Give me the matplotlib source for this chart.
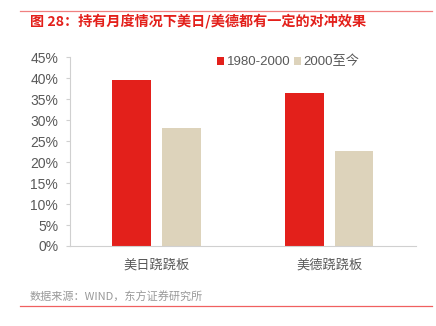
import matplotlib
matplotlib.use('Agg')
import matplotlib.pyplot as plt
import numpy as np
from matplotlib.lines import Line2D

plt.rcParams['font.family'] = ['Liberation Sans', 'Noto Sans CJK SC', 'DejaVu Sans']

# 数据
categories = ['美日跷跷板', '美德跷跷板']
series_names = ['1980-2000', '2000至今']
values_1980 = [39.5, 36.5]
values_2000 = [28.0, 22.7]
yticks = [0, 5, 10, 15, 20, 25, 30, 35, 40, 45]

red = '#E3201B'
beige = '#DDD3BB'
gray = '#595959'

fig = plt.figure(figsize=(4.36, 3.26), dpi=100)
ax = fig.add_axes([0.1606, 0.2454, 0.7934, 0.5796])

x = np.arange(len(categories))
w = 0.225
ax.bar(x - 0.142, values_1980, width=w, color=red, label=series_names[0])
ax.bar(x + 0.142, values_2000, width=w, color=beige, label=series_names[1])

ax.set_xlim(-0.5, 1.5)
ax.set_ylim(0, 45)
ax.set_yticks(yticks)
ax.set_yticklabels([f'{t}%' for t in yticks], color=gray, fontsize=10)
ax.set_xticks(x)
ax.set_xticklabels(categories, color=gray, fontsize=9.5,
                   family=['Noto Sans CJK SC', 'DejaVu Sans'])
ax.tick_params(axis='x', length=0, pad=9)
ax.tick_params(axis='y', length=3, color='#D0D0D0', pad=5.5)
for s in ['top', 'right']:
    ax.spines[s].set_visible(False)
for s in ['left', 'bottom']:
    ax.spines[s].set_color('#D0D0D0')
    ax.spines[s].set_linewidth(0.8)

leg = ax.legend(loc='upper left', bbox_to_anchor=(0.39, 1.07), ncol=2, frameon=False,
                fontsize=9.5, handlelength=0.55, handleheight=0.55, handletextpad=0.2,
                columnspacing=0.25, labelcolor=gray)

# 标题和来源
fig.add_artist(Line2D([0.046, 0.99], [0.966, 0.966], color='#F08080', lw=0.9))
fig.text(0.068, 0.935, '图 28：持有月度情况下美日/美德都有一定的对冲效果', color=red,
         fontsize=10.2, fontweight='bold', va='center', ha='left',
         family=['Noto Sans CJK SC', 'DejaVu Sans'])
fig.text(0.068, 0.088, '数据来源：WIND，东方证券研究所', color='#999999',
         fontsize=8, va='center', ha='left', family=['Noto Sans CJK SC', 'DejaVu Sans'])
fig.add_artist(Line2D([0.046, 0.99], [0.061, 0.061], color='#F06060', lw=0.9))

fig.savefig('out.png', dpi=100)
